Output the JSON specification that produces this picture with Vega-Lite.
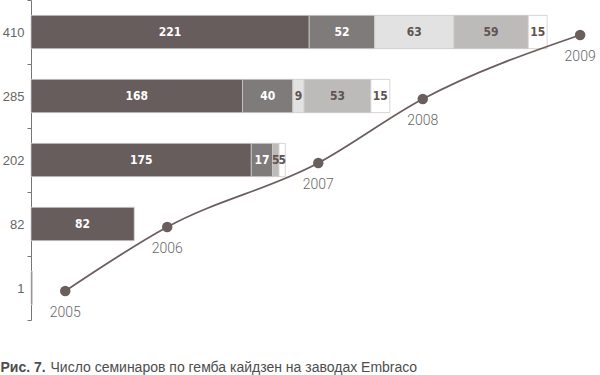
{
  "$schema": "https://vega.github.io/schema/vega-lite/v6.json",
  "autosize": {"type": "none"},
  "width": 569,
  "height": 320,
  "padding": {"left": 31, "top": 0, "right": 0, "bottom": 55},
  "background": "white",
  "config": {"view": {"stroke": null}},
  "datasets": {
    "bars": [
      {"row": "410", "seg": 1, "value": 221},
      {"row": "410", "seg": 2, "value": 52},
      {"row": "410", "seg": 3, "value": 63},
      {"row": "410", "seg": 4, "value": 59},
      {"row": "410", "seg": 5, "value": 15},
      {"row": "285", "seg": 1, "value": 168},
      {"row": "285", "seg": 2, "value": 40},
      {"row": "285", "seg": 3, "value": 9},
      {"row": "285", "seg": 4, "value": 53},
      {"row": "285", "seg": 5, "value": 15},
      {"row": "202", "seg": 1, "value": 175},
      {"row": "202", "seg": 2, "value": 17},
      {"row": "202", "seg": 4, "value": 5},
      {"row": "202", "seg": 5, "value": 5},
      {"row": "82", "seg": 1, "value": 82},
      {"row": "1", "seg": 1, "value": 1}
    ],
    "years": [
      {"year": "2005", "row": "1", "total": 1},
      {"year": "2006", "row": "82", "total": 82},
      {"year": "2007", "row": "202", "total": 202},
      {"year": "2008", "row": "285", "total": 285},
      {"year": "2009", "row": "410", "total": 410}
    ]
  },
  "layer": [
    {
      "data": {"name": "bars"},
      "transform": [
        {"stack": "value", "groupby": ["row"], "sort": [{"field": "seg"}], "as": ["v0", "v1"]}
      ],
      "mark": {"type": "bar", "height": {"band": 0.52}, "stroke": "#cfcaca", "strokeWidth": 0.8},
      "encoding": {
        "y": {
          "field": "row", "type": "nominal",
          "sort": ["410", "285", "202", "82", "1"],
          "scale": {"paddingInner": 0, "paddingOuter": 0},
          "axis": {
            "tickBand": "extent", "tickSize": 4, "tickColor": "#777777", "domainColor": "#777777",
            "labelColor": "#666666", "labelFontSize": 13, "labelFont": "Liberation Sans", "labelPadding": 3,
            "title": "Рис. 7.", "titleAngle": 0, "titleX": -31, "titleY": 371, "titleAlign": "left",
            "titleBaseline": "alphabetic", "titleFontWeight": "bold", "titleFontSize": 14,
            "titleFont": "Liberation Sans", "titleColor": "#4d4d4d"
          }
        },
        "x": {
          "field": "v0", "type": "quantitative",
          "scale": {"domain": [0, 452], "nice": false, "zero": true},
          "axis": {
            "domain": false, "ticks": false, "labels": false, "grid": false,
            "title": "Число семинаров по гемба кайдзен на заводах Embraco",
            "titleX": 19, "titleY": 51, "titleAlign": "left", "titleAnchor": "start",
            "titleBaseline": "alphabetic", "titleFontWeight": "normal", "titleFontSize": 14,
            "titleFont": "Liberation Sans", "titleColor": "#4d4d4d"
          }
        },
        "x2": {"field": "v1"},
        "color": {
          "field": "seg", "type": "nominal",
          "scale": {"domain": [1, 2, 3, 4, 5], "range": ["#675d5c", "#7f7b7a", "#e2e2e2", "#bdbaba", "#ffffff"]},
          "legend": null
        }
      }
    },
    {
      "data": {"name": "bars"},
      "transform": [
        {"stack": "value", "groupby": ["row"], "sort": [{"field": "seg"}], "as": ["v0", "v1"]},
        {"calculate": "(datum.v0 + datum.v1) / 2", "as": "mid"},
        {"filter": "datum.value > 1"}
      ],
      "mark": {"type": "text", "font": "DejaVu Sans Condensed", "fontWeight": "bold", "fontSize": 12, "baseline": "middle", "align": "center"},
      "encoding": {
        "y": {"field": "row", "type": "nominal", "sort": ["410", "285", "202", "82", "1"]},
        "x": {"field": "mid", "type": "quantitative"},
        "text": {"field": "value", "type": "quantitative"},
        "color": {"condition": {"test": "datum.seg <= 2", "value": "#ffffff"}, "value": "#5e5453"}
      }
    },
    {
      "data": {"name": "years"},
      "mark": {"type": "line", "interpolate": "monotone", "color": "#6b5f5e", "strokeWidth": 1.8, "xOffset": 33, "yOffset": 3},
      "encoding": {
        "y": {"field": "row", "type": "nominal", "sort": ["410", "285", "202", "82", "1"]},
        "x": {"field": "total", "type": "quantitative"},
        "order": {"field": "total", "type": "quantitative"}
      }
    },
    {
      "data": {"name": "years"},
      "mark": {"type": "point", "filled": true, "size": 110, "opacity": 1, "color": "#6b5f5e", "xOffset": 33, "yOffset": 3},
      "encoding": {
        "y": {"field": "row", "type": "nominal", "sort": ["410", "285", "202", "82", "1"]},
        "x": {"field": "total", "type": "quantitative"}
      }
    },
    {
      "data": {"name": "years"},
      "mark": {"type": "text", "font": "Roboto", "fontWeight": 300, "fontSize": 14, "color": "#666666", "xOffset": 33, "yOffset": 25, "baseline": "middle", "align": "center"},
      "encoding": {
        "y": {"field": "row", "type": "nominal", "sort": ["410", "285", "202", "82", "1"]},
        "x": {"field": "total", "type": "quantitative"},
        "text": {"field": "year", "type": "nominal"}
      }
    }
  ]
}
